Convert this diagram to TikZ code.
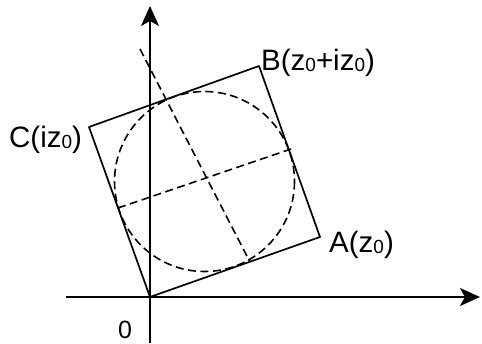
\documentclass[tikz,border=0pt]{standalone}
\usepackage{fontspec}
\setmainfont{Liberation Sans}
\usetikzlibrary{arrows.meta}
\newcommand{\subz}{\raisebox{-1.5pt}{\fontsize{19}{19}\selectfont 0}}
\tikzset{
  axis/.style={line width=2pt,-{Stealth[length=20pt,width=18pt,inset=5pt]}},
  side/.style={line width=1.7pt,line join=round},
  dashline/.style={line width=1.6pt,dash pattern=on 8pt off 4.5pt},
  lbl/.style={font=\fontsize{29.5}{30}\selectfont,inner sep=0pt,anchor=base west}
}
\begin{document}
\begin{tikzpicture}[x=1pt,y=-1pt]
\useasboundingbox (0,0) rectangle (482,343);
% axes
\coordinate (xs) at (66,297);
\coordinate (xe) at (480,297);
\coordinate (ys) at (150,343);
\coordinate (ye) at (150,6);
\draw[axis] (xs) -- (xe);
\draw[axis] (ys) -- (ye);
% square
\coordinate (O) at (150,297);
\coordinate (A) at (320,237);
\coordinate (B) at (259,66);
\coordinate (C) at (89,127);
\draw[side] (O) -- (A) -- (B) -- (C) -- cycle;
% circle and dashed lines
\coordinate (M) at (204.5,181.5);
\draw[dashline] (M) circle[radius=90];
\coordinate (d1) at (140,49);
\coordinate (d2) at (250,262);
\coordinate (d3) at (118,208);
\coordinate (d4) at (291,149);
\draw[dashline] (d1) -- (d2);
\draw[dashline] (d3) -- (d4);
% labels
\node[lbl] (la) at (329,252) {A(z\subz)};
\node[lbl] (lb) at (261,70) {B(z\subz+iz\subz)};
\node[lbl] (lc) at (9,147) {C(iz\subz)};
\node[lbl,font=\fontsize{25}{25}\selectfont] (lo) at (118,338) {0};
\end{tikzpicture}
\end{document}
